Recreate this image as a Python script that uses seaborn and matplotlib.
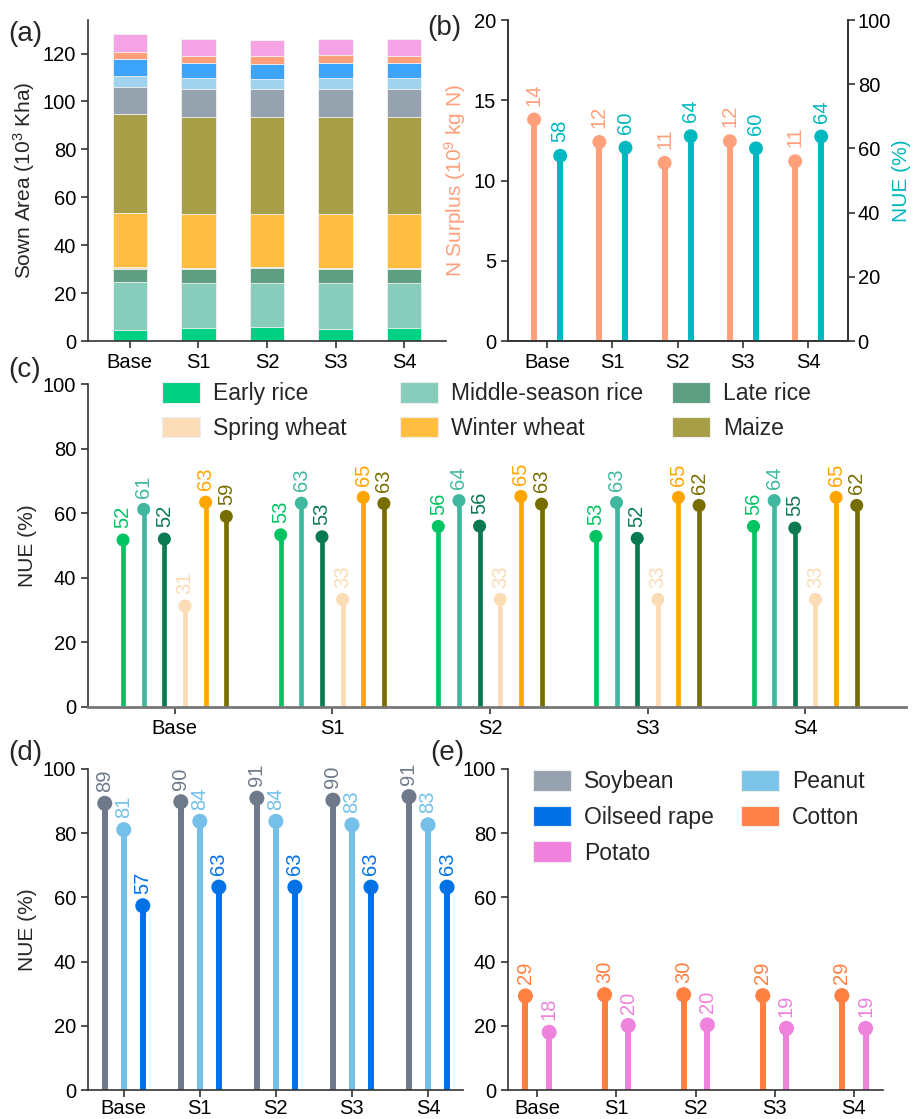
import numpy as np
import matplotlib
matplotlib.use("Agg")
import matplotlib.pyplot as plt
from matplotlib.patches import Patch
import seaborn as sns

sns.set_theme(style="ticks")
plt.rcParams['font.family'] = ['Liberation Sans', 'DejaVu Sans']
plt.rcParams['mathtext.default'] = 'regular'
plt.rcParams['axes.edgecolor'] = '#333333'
plt.rcParams['xtick.color'] = '#333333'
plt.rcParams['ytick.color'] = '#333333'
plt.rcParams['xtick.labelcolor'] = 'black'
plt.rcParams['ytick.labelcolor'] = 'black'

# ---------------- data ----------------
scenarios = ["Base", "S1", "S2", "S3", "S4"]

# (a) sown area by crop (10^3 Kha), stacked bottom -> top
area_crops = ["Early rice", "Middle-season rice", "Late rice", "Spring wheat", "Winter wheat",
              "Maize", "Soybean", "Peanut", "Oilseed rape", "Cotton", "Potato"]
area_early = [4.7, 5.4, 6.0, 5.2, 5.4]
area_middle = [20.1, 18.7, 18.1, 18.9, 18.7]
area_late = [5.3, 5.9, 6.3, 6.0, 5.9]
area_spring = [0.8, 0.5, 0.3, 0.4, 0.5]
area_winter = [22.5, 22.7, 22.5, 22.7, 22.7]
area_maize = [41.2, 40.5, 40.5, 40.5, 40.5]
area_soy = [11.6, 11.4, 11.4, 11.5, 11.4]
area_peanut = [4.6, 4.6, 4.4, 4.6, 4.6]
area_rape = [6.8, 6.3, 6.3, 6.3, 6.3]
area_cotton = [3.2, 3.0, 3.1, 3.2, 3.0]
area_potato = [7.3, 7.0, 6.8, 6.8, 7.0]

# (b) N surplus (10^9 kg N) and NUE (%)
n_surplus = [13.8, 12.4, 11.1, 12.45, 11.2]
nue_total = [57.7, 60.2, 63.8, 60.0, 63.7]

# (c) NUE of cereals (%)
nue_early = [51.7, 53.3, 55.9, 52.8, 55.9]
nue_middle = [61.2, 63.1, 63.9, 63.3, 63.9]
nue_late = [52.0, 52.7, 56.0, 52.2, 55.4]
nue_spring = [31.25, 33.3, 33.3, 33.3, 33.3]
nue_winter = [63.4, 64.9, 65.2, 64.9, 64.9]
nue_maize = [59.0, 63.0, 62.8, 62.4, 62.4]

# (d) NUE of oil crops (%)
nue_soy = [89.3, 89.8, 90.9, 90.3, 91.4]
nue_peanut = [81.1, 83.7, 83.7, 82.6, 82.6]
nue_rape = [57.4, 63.2, 63.2, 63.2, 63.2]

# (e) NUE of cotton and potato (%)
nue_cotton = [29.3, 29.7, 29.7, 29.4, 29.4]
nue_potato = [18.0, 20.1, 20.3, 19.2, 19.2]

# ---------------- colours ----------------
light = {"Early rice": "#00D084", "Middle-season rice": "#88CCBC", "Late rice": "#5E9E82",
         "Spring wheat": "#FADCB6", "Winter wheat": "#FFBE40", "Maize": "#A89E48",
         "Soybean": "#96A2AE", "Peanut": "#A0D4EE", "Oilseed rape": "#3CA4FA",
         "Cotton": "#FFA07A", "Potato": "#F4A4E4"}
dark = {"Early rice": "#00C462", "Middle-season rice": "#40B8A0", "Late rice": "#0A7A50",
        "Spring wheat": "#FCDCB4", "Winter wheat": "#FFA500", "Maize": "#786E00",
        "Soybean": "#6E7A8A", "Peanut": "#74C0E8", "Oilseed rape": "#0072E6",
        "Cotton": "#FF8040", "Potato": "#EE82DD"}
c_surplus = "#FFA07A"
c_nue = "#00B8C0"

W, H = 914, 1119
fig = plt.figure(figsize=(W / 100, H / 100), dpi=100)


def ax_px(l, t, r, b):
    return fig.add_axes([l / W, 1 - b / H, (r - l) / W, (b - t) / H])


TICK = 14.5
VAL = 14.5
LAB = 15


def style(ax, xpad=3.5):
    ax.tick_params(axis='both', labelsize=TICK, length=5, width=1.2, direction='out')
    ax.tick_params(axis='x', pad=xpad)
    for s in ax.spines.values():
        s.set_linewidth(1.2)


def lollipop(ax, pos, vals, color, lw, s, off=8.5):
    ax.vlines(pos, 0, vals, colors=color, lw=lw, zorder=2)
    sns.scatterplot(x=pos, y=vals, color=color, s=s, edgecolor='none', zorder=3,
                    ax=ax, legend=False)
    for x, v in zip(pos, vals):
        ax.annotate(f"{v:.0f}", (x, v), xytext=(0, off), textcoords='offset points',
                    rotation=90, ha='center', va='bottom', color=color, fontsize=VAL)


x = np.arange(len(scenarios))

# ---------------- (a) ----------------
axa = ax_px(88, 20, 446, 341)
layers = [area_early, area_middle, area_late, area_spring, area_winter, area_maize,
          area_soy, area_peanut, area_rape, area_cotton, area_potato]
cum = np.cumsum(np.array(layers), axis=0)
for i in range(len(layers) - 1, -1, -1):
    sns.barplot(x=scenarios, y=cum[i], color=light[area_crops[i]], saturation=1,
                width=0.5, edgecolor='#f4f4f4', linewidth=0.6, errorbar=None, ax=axa)
axa.set_xlim(-0.61, 4.61)
axa.set_ylim(0, 134)
axa.set_yticks([0, 20, 40, 60, 80, 100, 120])
axa.set_ylabel("Sown Area (10$^3$ Kha)", fontsize=LAB)
axa.set_xlabel("")
sns.despine(ax=axa)
style(axa)

# ---------------- (b) ----------------
axb = ax_px(508, 20, 848, 341)
axb2 = axb.twinx()
lollipop(axb, x - 0.2, n_surplus, c_surplus, 4.3, 100, off=10)
lollipop(axb2, x + 0.2, nue_total, c_nue, 4.3, 100, off=10)
axb.set_ylim(0, 20)
axb2.set_ylim(0, 100)
axb.set_xlim(-0.6, 4.61)
axb.set_xticks(x)
axb.set_xticklabels(scenarios)
axb.set_yticks([0, 5, 10, 15, 20])
axb2.set_yticks([0, 20, 40, 60, 80, 100])
axb.set_ylabel("N Surplus (10$^9$ kg N)", fontsize=LAB, color=c_surplus)
axb2.set_ylabel("NUE (%)", fontsize=LAB, color=c_nue, labelpad=1)
for a in (axb, axb2):
    a.spines['top'].set_visible(False)
    style(a)
axb2.tick_params(axis='y', pad=2)

# ---------------- (c) ----------------
axc = ax_px(88, 384, 906, 707)
cereal_names = ["Early rice", "Middle-season rice", "Late rice", "Spring wheat",
                "Winter wheat", "Maize"]
cereal_vals = [nue_early, nue_middle, nue_late, nue_spring, nue_winter, nue_maize]
step = 0.131
for k, (nm, vals) in enumerate(zip(cereal_names, cereal_vals)):
    lollipop(axc, x + (k - 2.5) * step, vals, dark[nm], 3.4, 88)
axc.set_xlim(-0.55, 4.64)
axc.set_ylim(0, 100)
axc.set_xticks(x)
axc.set_xticklabels(scenarios)
axc.set_yticks([0, 20, 40, 60, 80, 100])
axc.set_ylabel("NUE (%)", fontsize=LAB)
sns.despine(ax=axc)
style(axc)
axc.spines['bottom'].set_color('#777777')
axc.spines['bottom'].set_linewidth(2)

leg_cols = [(162, ["Early rice", "Spring wheat"]),
            (400, ["Middle-season rice", "Winter wheat"]),
            (672, ["Late rice", "Maize"])]
for xp, names in leg_cols:
    handles = [Patch(facecolor=light[n], edgecolor='#eeeeee', lw=0.8, label=n) for n in names]
    fig.legend(handles=handles, loc='upper left', bbox_to_anchor=(xp / W, 1 - 382 / H),
               bbox_transform=fig.transFigure, frameon=False, fontsize=16.5,
               handlelength=1.66, handleheight=1.0, handletextpad=0.55,
               labelspacing=0.5, borderpad=0, borderaxespad=0)

# ---------------- (d) ----------------
axd = ax_px(88, 769, 463, 1090)
oil_names = ["Soybean", "Peanut", "Oilseed rape"]
oil_vals = [nue_soy, nue_peanut, nue_rape]
for k, (nm, vals) in enumerate(zip(oil_names, oil_vals)):
    lollipop(axd, x + (k - 1) * 0.25, vals, dark[nm], 4.3, 117)
axd.set_xlim(-0.47, 4.46)
axd.set_ylim(0, 100)
axd.set_xticks(x)
axd.set_xticklabels(scenarios)
axd.set_yticks([0, 20, 40, 60, 80, 100])
axd.set_ylabel("NUE (%)", fontsize=LAB)
sns.despine(ax=axd)
style(axd, xpad=1.5)

# ---------------- (e) ----------------
axe = ax_px(508, 769, 883, 1090)
lollipop(axe, x - 0.15, nue_cotton, dark["Cotton"], 4.3, 117)
lollipop(axe, x + 0.15, nue_potato, dark["Potato"], 4.3, 117)
axe.set_xlim(-0.37, 4.37)
axe.set_ylim(0, 100)
axe.set_xticks(x)
axe.set_xticklabels(scenarios)
axe.set_yticks([0, 20, 40, 60, 80, 100])
sns.despine(ax=axe)
style(axe, xpad=1.5)
leg_e = ["Soybean", "Oilseed rape", "Potato", "Peanut", "Cotton"]
leg_e_col = {"Soybean": "#96A2AE", "Oilseed rape": "#0072E6", "Potato": "#EE82DD",
             "Peanut": "#7CC4E8", "Cotton": "#FF8048"}
handles = [Patch(facecolor=leg_e_col[n], edgecolor='#eeeeee', lw=0.8, label=n) for n in leg_e]
fig.legend(handles=handles, loc='upper left', bbox_to_anchor=(533 / W, 1 - 770 / H),
           bbox_transform=fig.transFigure, frameon=False, fontsize=16.5, ncol=2,
           handlelength=1.66, handleheight=1.0, handletextpad=0.55,
           labelspacing=0.55, columnspacing=1.2, borderpad=0, borderaxespad=0)

# ---------------- panel letters ----------------
for txt, px, py in [("(a)", 8, 34), ("(b)", 427, 28), ("(c)", 8, 370),
                    ("(d)", 8, 753), ("(e)", 430, 753)]:
    fig.text(px / W, 1 - py / H, txt, fontsize=20, ha='left', va='center')

fig.savefig("out.png", dpi=100)
